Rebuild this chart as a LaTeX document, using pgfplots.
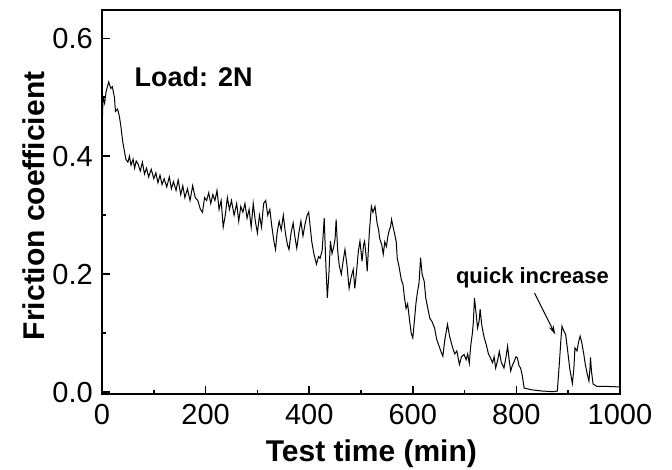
\documentclass[border=0pt]{standalone}
\usepackage{pgfplots}
\pgfplotsset{compat=1.18}
\usepackage{fontspec}
\setmainfont{Liberation Sans}
\usetikzlibrary{arrows.meta}
\newcommand{\tickfont}{\fontsize{29}{33}\selectfont}
\begin{document}
\begin{tikzpicture}
\path[use as bounding box] (-102pt,-76pt) rectangle (570pt,394pt);
\begin{axis}[
  at={(0pt,0pt)}, anchor=south west,
  scale only axis, width=518pt, height=384pt,
  xmin=0, xmax=1000, ymin=-0.003, ymax=0.648,
  xtick={0,200,400,600,800,1000},
  ytick={0,0.2,0.4,0.6},
  minor x tick num=1, minor y tick num=1,
  xtick pos=bottom, ytick pos=left,
  tick align=inside,
  major tick length=8pt, minor tick length=4pt,
  every tick/.style={line width=1.6pt, black},
  axis line style={line width=1.8pt},
  xticklabel={\tickfont\pgfmathprintnumber[assume math mode=true,1000 sep={}]{\tick}},
  yticklabel={\tickfont\pgfmathprintnumber[assume math mode=true,fixed,fixed zerofill,precision=1]{\tick}},
  xticklabel style={inner sep=0pt, yshift=-10pt},
  yticklabel style={inner sep=0pt, xshift=-9pt},
  xlabel={\bfseries Test time (min)},
  ylabel={\bfseries Friction coefficient},
  label style={font=\fontsize{30}{34}\selectfont},
  xlabel style={at={(axis description cs:0.52,0)}, anchor=north, inner sep=0pt, yshift=-46pt},
  ylabel style={at={(axis description cs:0,0.49)}, anchor=south, yshift=54pt},
  clip=false,
]
\addplot[black, line width=1pt] table {
x y
0 0.44
2 0.50
5 0.49
8 0.51
13 0.526
17 0.515
20 0.518
24 0.50
26 0.476
30 0.48
33 0.47
36 0.454
40 0.425
43 0.41
46 0.395
50 0.39
53 0.40
56 0.385
60 0.395
63 0.38
66 0.392
70 0.386
74 0.375
78 0.39
82 0.37
86 0.38
90 0.365
95 0.378
100 0.362
104 0.372
108 0.355
112 0.368
116 0.352
120 0.362
125 0.348
130 0.365
134 0.345
138 0.357
143 0.342
147 0.36
152 0.335
156 0.35
160 0.33
165 0.345
170 0.325
175 0.35
180 0.33
185 0.325
190 0.31
194 0.305
198 0.33
202 0.325
206 0.338
210 0.32
214 0.335
218 0.325
222 0.342
226 0.31
230 0.325
234 0.28
238 0.30
242 0.33
246 0.31
250 0.325
255 0.30
260 0.32
264 0.29
268 0.315
272 0.305
276 0.32
280 0.295
284 0.31
288 0.28
292 0.32
296 0.29
300 0.27
304 0.30
308 0.28
312 0.32
316 0.325
320 0.30
324 0.31
328 0.28
332 0.255
335 0.242
338 0.27
342 0.29
346 0.275
350 0.30
354 0.27
358 0.25
361 0.242
365 0.27
369 0.287
373 0.26
376 0.244
380 0.27
384 0.29
388 0.265
392 0.285
396 0.30
399 0.305
402 0.28
405 0.255
409 0.235
414 0.217
418 0.23
421 0.227
425 0.24
429 0.295
432 0.22
435 0.16
438 0.20
441 0.256
444 0.235
447 0.245
450 0.26
452 0.293
455 0.24
458 0.215
462 0.20
466 0.225
469 0.242
473 0.215
477 0.176
481 0.195
485 0.208
488 0.176
492 0.21
495 0.24
498 0.256
502 0.222
505 0.25
507 0.256
510 0.23
512 0.205
516 0.27
520 0.315
523 0.305
527 0.315
531 0.287
534 0.275
536 0.261
540 0.25
543 0.234
546 0.255
549 0.247
552 0.265
555 0.276
557 0.28
559 0.293
562 0.28
565 0.268
568 0.255
570 0.227
573 0.215
575 0.205
578 0.19
581 0.183
584 0.16
587 0.142
590 0.15
594 0.12
597 0.10
600 0.092
603 0.12
606 0.15
609 0.17
612 0.185
615 0.228
618 0.20
622 0.188
625 0.16
629 0.142
633 0.125
637 0.12
642 0.109
646 0.09
650 0.08
654 0.07
658 0.061
662 0.09
667 0.115
671 0.095
674 0.085
677 0.075
681 0.065
685 0.07
690 0.047
694 0.06
699 0.064
703 0.055
706 0.065
709 0.049
712 0.08
715 0.10
717 0.12
719 0.16
722 0.135
725 0.109
728 0.12
730 0.141
733 0.115
736 0.10
738 0.092
742 0.08
746 0.065
750 0.058
754 0.05
757 0.06
760 0.041
764 0.055
767 0.069
771 0.05
774 0.045
776 0.041
780 0.06
783 0.078
786 0.055
789 0.036
792 0.045
796 0.053
799 0.06
802 0.058
805 0.045
808 0.041
811 0.03
815 0.007
830 0.004
850 0.002
870 0.001
879 0.002
883 0.05
886 0.09
888 0.112
891 0.105
895 0.098
899 0.07
903 0.04
906 0.025
908 0.015
911 0.04
913 0.075
917 0.07
920 0.085
923 0.095
926 0.085
930 0.065
933 0.047
937 0.03
940 0.019
942 0.04
943 0.059
945 0.035
948 0.014
955 0.010
970 0.010
999 0.009
};
\node[font=\fontsize{27}{30}\selectfont\bfseries] at (axis cs:177,0.534) {Load: 2N};
\node[font=\fontsize{22}{26}\selectfont\bfseries] at (axis cs:831,0.194) {quick increase};
\draw[-{Stealth[length=9pt,width=5pt]}, line width=1pt] (axis cs:835,0.168) -- (axis cs:875,0.098);
\end{axis}
\end{tikzpicture}
\end{document}
